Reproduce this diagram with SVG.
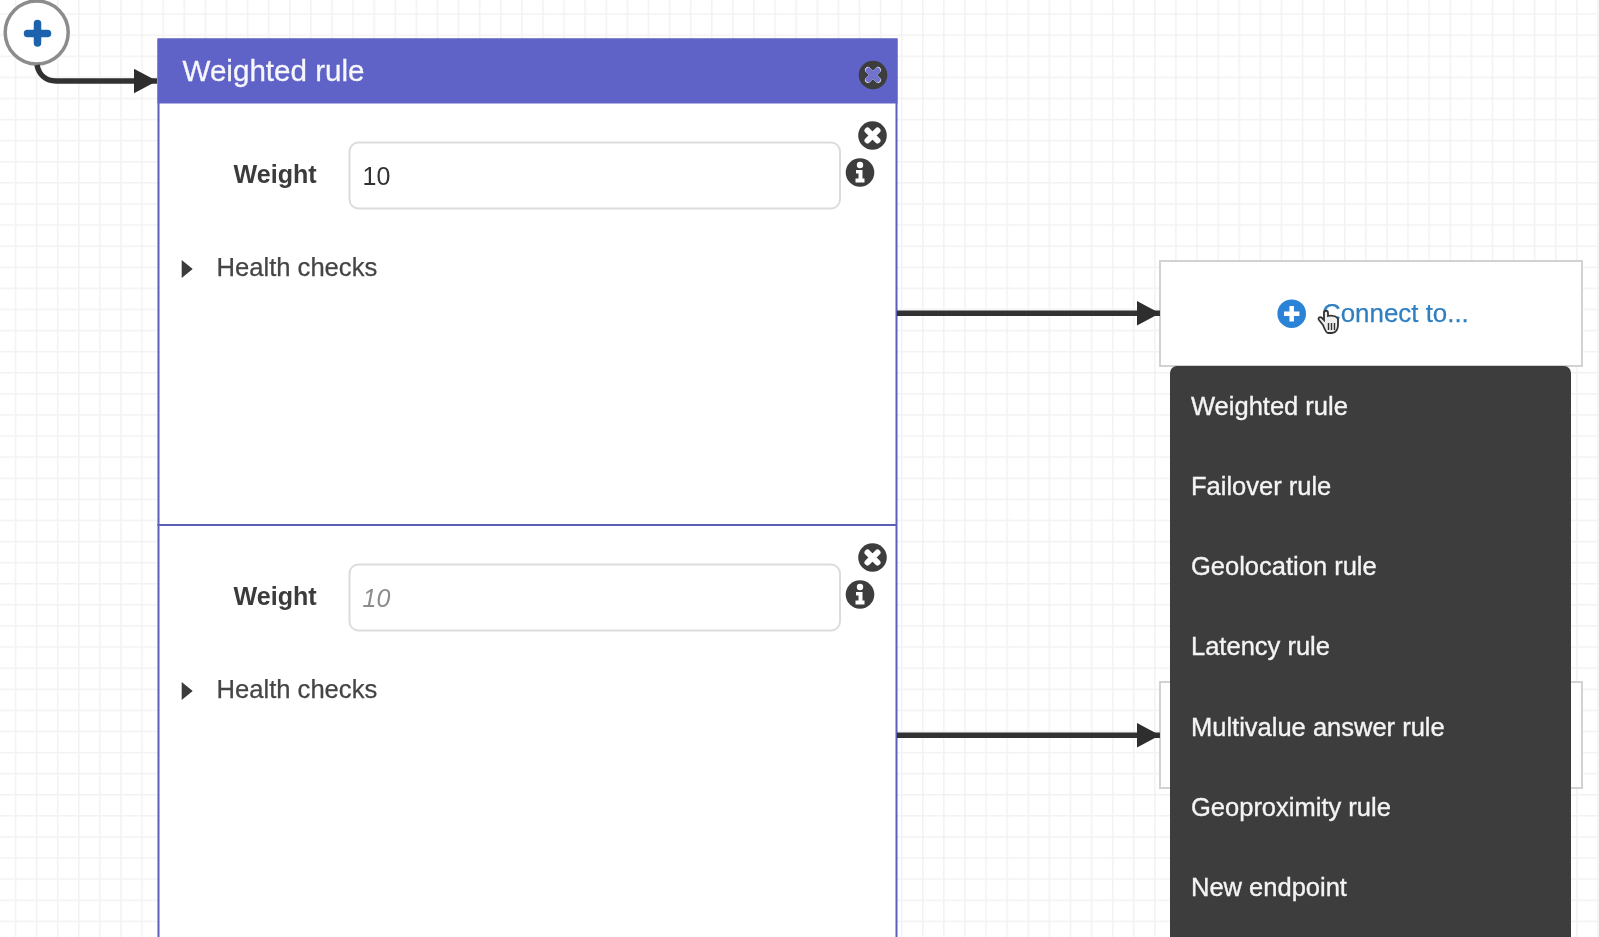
<svg xmlns="http://www.w3.org/2000/svg" width="1599" height="937" viewBox="0 0 1599 937">
<style>
text{font-family:"Liberation Sans",Arial,sans-serif}
.menu{font-size:25.5px;fill:#f4f4f4;stroke:#f4f4f4;stroke-width:.35px}
.lab{font-size:25.1px;font-weight:bold;fill:#3a3a3a}
.hc{font-size:25.6px;fill:#444;stroke:#444;stroke-width:.25px}
.inp{fill:#fff;stroke:#dcdcdc;stroke-width:2}
.dark{fill:#3d3d3d}
.conn{fill:none;stroke:#333;stroke-width:5.5}
.box{fill:#fff;stroke:#d2d2d2;stroke-width:2}
</style>
<defs>
<pattern id="grid" x="14.7" y="13.3" width="21.1" height="21.1" patternUnits="userSpaceOnUse">
<path d="M0.75 0V21.1M0 0.75H21.1" fill="none" stroke="#f2f2f2" stroke-width="1.5"/>
</pattern>
<filter id="soft" x="0" y="0" width="1" height="1"><feGaussianBlur stdDeviation="0.55"/></filter>
<marker id="arrow" markerUnits="userSpaceOnUse" markerWidth="24" markerHeight="26" refX="23.5" refY="12.5" orient="auto">
<path d="M0 0L23.5 12.5L0 25Z" fill="#2e2e2e"/>
</marker>
<g id="xicon"><circle r="14.3" class="dark"/><path d="M-5 -5L5 5M5 -5L-5 5" stroke="#fff" stroke-width="6" stroke-linecap="round"/></g>
<g id="iicon"><circle r="14.3" class="dark"/><circle cy="-7.5" r="3.2" fill="#fff"/><path d="M-4 -2.5H2.5V6H4.5V10H-4.5V6H-1.5V1H-4Z" fill="#fff"/></g>
</defs>
<g filter="url(#soft)">
<rect width="1599" height="937" fill="#fff"/>
<rect width="1599" height="937" fill="url(#grid)"/>

<g id="box-bottom"><rect class="box" x="1160" y="682" width="422" height="106"/></g>
<g id="box-connect">
<rect class="box" x="1160" y="261" width="422" height="105"/>
<circle cx="1291.7" cy="313.7" r="14.3" fill="#2b83d6"/>
<path d="M1284 313.7H1299.4M1291.7 306V321.4" stroke="#fff" stroke-width="4.5"/>
<text x="1322" y="322" font-size="25.9" fill="#2f7fc1" stroke="#2f7fc1" stroke-width=".25">Connect to...</text>
<path d="M1323 325L1319 320C1317.5 318 1320 316 1322 318L1324 320V313C1324 310 1328 310 1328 313V316C1331 315 1337 316 1338 319V325C1338 329 1336 333 1332 333H1328C1326 333 1324.5 329 1323 325Z" fill="#eee" stroke="#333" stroke-width="1.8"/>
<path d="M1328.5 323V330M1331.5 323V330M1334.5 323V330" stroke="#333" stroke-width="1.4"/>
</g>

<g id="start">
<circle cx="36.7" cy="32.5" r="31.5" fill="#fff" stroke="#8c8c8c" stroke-width="3.5"/>
<path d="M27.5 33.5H47.5M37.5 23.5V43" stroke="#1b62ac" stroke-width="7.5" stroke-linecap="round"/>
</g>

<g id="panel">
<rect x="158.5" y="39.5" width="738" height="920" fill="#fff" stroke="#5b5fb8" stroke-width="2"/>
<rect x="157.5" y="38.5" width="740" height="65" fill="#5f62c6"/>
<path d="M157.5 525H897" stroke="#5b5fb8" stroke-width="2"/>
<text x="182.5" y="81" font-size="29.6" fill="#f6f6fb" stroke="#f6f6fb" stroke-width=".3">Weighted rule</text>
<use href="#xicon" x="873" y="75"/>
<path d="M868.5 70.5L877.5 79.5M877.5 70.5L868.5 79.5" stroke="#6f72cc" stroke-width="6" stroke-linecap="round"/>
</g>

<g id="row-1">
<rect class="inp" x="349.5" y="142.5" width="490.5" height="66" rx="9"/>
<text class="lab" x="233.5" y="182.5">Weight</text>
<text x="362.5" y="185" font-size="25" fill="#333">10</text>
<use href="#xicon" x="872.5" y="135.5"/>
<use href="#iicon" x="860" y="172.5"/>
<path d="M181.7 260L192.7 269L181.7 278Z" fill="#3a3a3a"/>
<text class="hc" x="216.5" y="275.5">Health checks</text>
</g>

<g id="row-2">
<rect class="inp" x="349.5" y="564.5" width="490.5" height="66" rx="9"/>
<text class="lab" x="233.5" y="604.5">Weight</text>
<text x="362.5" y="607" font-size="25" font-style="italic" fill="#8c8c8c">10</text>
<use href="#xicon" x="872.5" y="557.5"/>
<use href="#iicon" x="860" y="594.5"/>
<path d="M181.7 682L192.7 691L181.7 700Z" fill="#3a3a3a"/>
<text class="hc" x="216.5" y="697.5">Health checks</text>
</g>

<g id="connectors">
<path class="conn" d="M37 65C39 75 46 81 56 81H157" marker-end="url(#arrow)"/>
<path class="conn" d="M897 313.3H1160" marker-end="url(#arrow)"/>
<path class="conn" d="M897 735.3H1160" marker-end="url(#arrow)"/>
</g>

<g id="menu">
<path d="M1170 945V373a7 7 0 0 1 7-7H1564a7 7 0 0 1 7 7V945Z" class="dark"/>
<text class="menu" x="1191" y="415">Weighted rule</text>
<text class="menu" x="1191" y="495">Failover rule</text>
<text class="menu" x="1191" y="575">Geolocation rule</text>
<text class="menu" x="1191" y="655">Latency rule</text>
<text class="menu" x="1191" y="736">Multivalue answer rule</text>
<text class="menu" x="1191" y="816">Geoproximity rule</text>
<text class="menu" x="1191" y="896">New endpoint</text>
</g>
</g>
</svg>
